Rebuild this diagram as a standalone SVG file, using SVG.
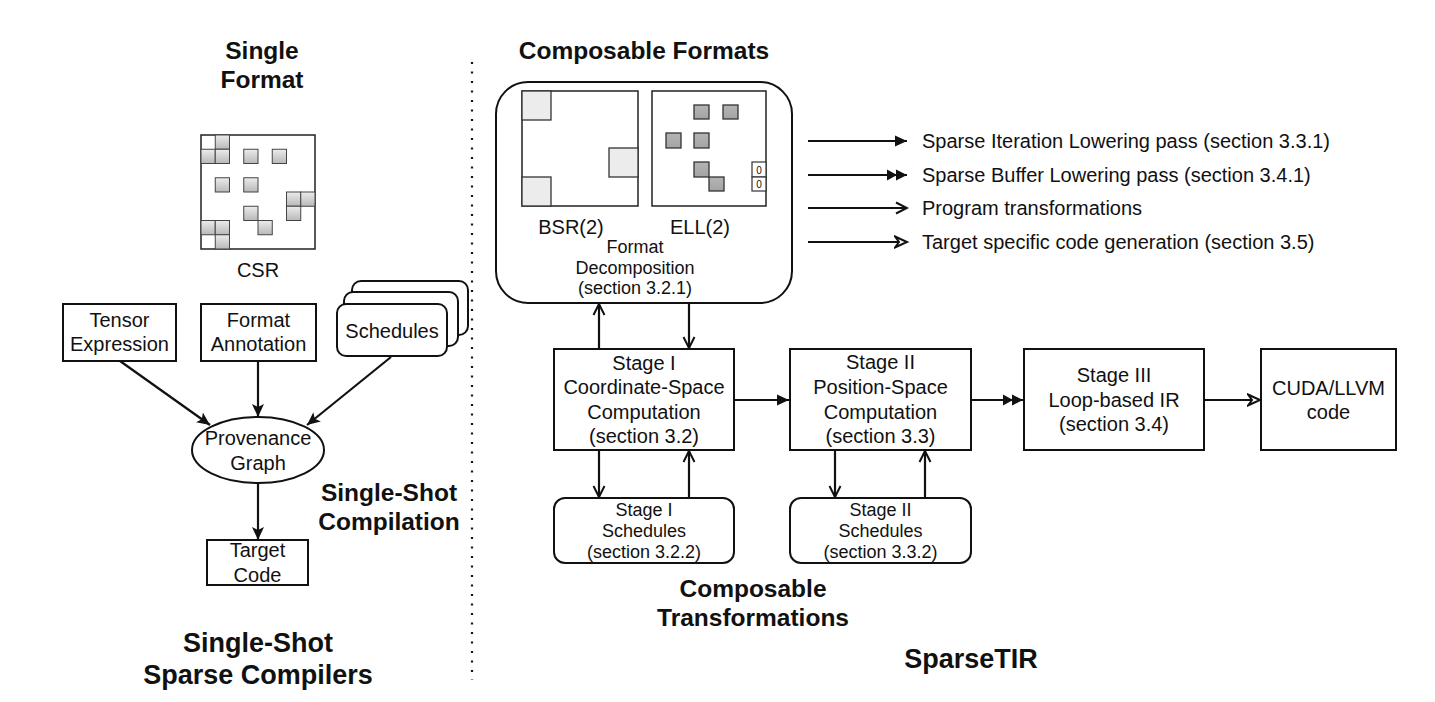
<svg xmlns="http://www.w3.org/2000/svg" width="1435" height="702" viewBox="0 0 1435 702">
<defs>
<style>
text{font-family:"Liberation Sans",Arial,sans-serif;fill:#111;text-anchor:middle;dominant-baseline:central}
.t{font-weight:bold;font-size:24.5px}
.tb{font-weight:bold;font-size:27px}
.m{font-size:20px}
.s{font-size:18px}
.lg{font-size:20px;text-anchor:start}
.box{fill:#fff;stroke:#111;stroke-width:2}
.mat{fill:#fff;stroke:#222;stroke-width:1.5}
.cell{fill:url(#g1);stroke:#444;stroke-width:1}
.bsr{fill:#ececec;stroke:#333;stroke-width:1.3}
.ell{fill:url(#g2);stroke:#333;stroke-width:1.3}
.e{fill:none;stroke:#111;stroke-width:2.2}
</style>
<linearGradient id="g1" x1="0" y1="0" x2="0" y2="1"><stop offset="0" stop-color="#ececec"/><stop offset="1" stop-color="#b8b8b8"/></linearGradient>
<linearGradient id="g2" x1="0" y1="0" x2="0" y2="1"><stop offset="0" stop-color="#b4b4b4"/><stop offset="1" stop-color="#a4a4a4"/></linearGradient>
<marker id="fill" markerUnits="userSpaceOnUse" markerWidth="14" markerHeight="12" refX="12" refY="6" orient="auto"><path d="M0,0.5 L12,6 L0,11.5 Z" fill="#111"/></marker>
<marker id="cls" markerUnits="userSpaceOnUse" markerWidth="15" markerHeight="13" refX="13" refY="6.5" orient="auto"><path d="M0,0.5 L13,6.5 L0,12.5 L3,6.5 Z" fill="#111"/></marker>
<marker id="dbl" markerUnits="userSpaceOnUse" markerWidth="22" markerHeight="12" refX="20" refY="6" orient="auto"><path d="M0,0.5 L10,6 L0,11.5 Z M9,0.5 L20,6 L9,11.5 Z" fill="#111"/></marker>
<marker id="open" markerUnits="userSpaceOnUse" markerWidth="14" markerHeight="14" refX="12" refY="7" orient="auto"><path d="M1,1.5 L12,7 L1,12.5" fill="none" stroke="#111" stroke-width="2"/></marker>
<marker id="openc" markerUnits="userSpaceOnUse" markerWidth="16" markerHeight="14" refX="13" refY="7" orient="auto"><path d="M1,1.5 L13,7 L1,12.5 L5,7 Z" fill="#fff" stroke="#111" stroke-width="2" stroke-linejoin="miter"/></marker>
</defs>
<rect width="1435" height="702" fill="#fff"/>

<!-- titles -->
<g id="titles">
<text class="t" x="262" y="50">Single</text>
<text class="t" x="262" y="79">Format</text>
<text class="t" x="389" y="492">Single-Shot</text>
<text class="t" x="389" y="521">Compilation</text>
<text class="tb" x="258" y="643">Single-Shot</text>
<text class="tb" x="258" y="675">Sparse Compilers</text>
<text class="t" x="644" y="50">Composable Formats</text>
<text class="t" x="753" y="588">Composable</text>
<text class="t" x="753" y="617">Transformations</text>
<text class="tb" x="971" y="659">SparseTIR</text>
</g>

<!-- divider -->
<line x1="472" y1="62" x2="472" y2="680" stroke="#111" stroke-width="2.2" stroke-dasharray="2 7.5"/>

<!-- CSR matrix -->
<g id="csr">
<rect class="mat" x="201" y="135" width="114" height="114"/>
<rect class="cell" x="215.25" y="135" width="14.25" height="14.25"/>
<rect class="cell" x="201" y="149.25" width="14.25" height="14.25"/>
<rect class="cell" x="215.25" y="149.25" width="14.25" height="14.25"/>
<rect class="cell" x="243.75" y="149.25" width="14.25" height="14.25"/>
<rect class="cell" x="272.25" y="149.25" width="14.25" height="14.25"/>
<rect class="cell" x="215.25" y="177.75" width="14.25" height="14.25"/>
<rect class="cell" x="243.75" y="177.75" width="14.25" height="14.25"/>
<rect class="cell" x="286.5" y="192" width="14.25" height="14.25"/>
<rect class="cell" x="300.75" y="192" width="14.25" height="14.25"/>
<rect class="cell" x="243.75" y="206.25" width="14.25" height="14.25"/>
<rect class="cell" x="286.5" y="206.25" width="14.25" height="14.25"/>
<rect class="cell" x="201" y="220.5" width="14.25" height="14.25"/>
<rect class="cell" x="215.25" y="220.5" width="14.25" height="14.25"/>
<rect class="cell" x="258" y="220.5" width="14.25" height="14.25"/>
<rect class="cell" x="215.25" y="234.75" width="14.25" height="14.25"/>
<text class="m" x="258" y="270">CSR</text>
</g>

<!-- left nodes -->
<g id="tensor-expression">
<rect class="box" x="63" y="304" width="113" height="57"/>
<text class="m" x="119.5" y="320">Tensor</text>
<text class="m" x="119.5" y="344">Expression</text>
</g>
<g id="format-annotation">
<rect class="box" x="201" y="304" width="115" height="57"/>
<text class="m" x="258.5" y="320">Format</text>
<text class="m" x="258.5" y="344">Annotation</text>
</g>
<g id="schedules">
<rect class="box" x="352" y="281" width="116" height="54" rx="9"/>
<rect class="box" x="344" y="292" width="114" height="54" rx="9"/>
<rect class="box" x="337" y="304" width="110" height="52" rx="9"/>
<text class="m" x="392" y="331">Schedules</text>
</g>
<g id="provenance-graph">
<ellipse class="box" cx="258" cy="450" rx="66" ry="33"/>
<text class="m" x="258" y="438">Provenance</text>
<text class="m" x="258" y="463">Graph</text>
</g>
<g id="target-code">
<rect class="box" x="207" y="540" width="101" height="45"/>
<text class="m" x="257.5" y="550">Target</text>
<text class="m" x="257.5" y="575">Code</text>
</g>

<!-- Composable formats -->
<g id="composable-formats">
<rect class="box" x="496" y="82" width="296" height="221" rx="32"/>
<rect class="mat" x="522" y="91" width="116" height="115"/>
<rect class="bsr" x="522" y="91" width="29" height="29"/>
<rect class="bsr" x="609" y="148" width="29" height="29"/>
<rect class="bsr" x="522" y="177" width="29" height="29"/>
<rect class="mat" x="652" y="91" width="114" height="115"/>
<rect class="ell" x="694" y="105" width="15" height="14"/>
<rect class="ell" x="723" y="105" width="15" height="14"/>
<rect class="ell" x="666" y="133" width="15" height="15"/>
<rect class="ell" x="694" y="133" width="15" height="15"/>
<rect class="ell" x="694" y="162" width="15" height="15"/>
<rect class="ell" x="709" y="177" width="15" height="14"/>
<rect fill="#fff" stroke="#333" stroke-width="1.2" x="752" y="162" width="14" height="15"/>
<rect fill="#fff" stroke="#333" stroke-width="1.2" x="752" y="177" width="14" height="14"/>
<text x="759" y="170" style="font-size:10px">0</text>
<text x="759" y="184.5" style="font-size:10px">0</text>
<text class="m" x="571" y="227">BSR(2)</text>
<text class="m" x="700" y="227">ELL(2)</text>
<text class="s" x="635" y="247">Format</text>
<text class="s" x="635" y="268">Decomposition</text>
<text class="s" x="635" y="288">(section 3.2.1)</text>
</g>

<!-- legend -->
<g id="legend">
<line class="e" x1="808" y1="141" x2="907" y2="141" marker-end="url(#fill)"/>
<line class="e" x1="808" y1="175" x2="907" y2="175" marker-end="url(#dbl)"/>
<line class="e" x1="808" y1="208" x2="907" y2="208" marker-end="url(#open)"/>
<line class="e" x1="808" y1="242" x2="907" y2="242" marker-end="url(#openc)"/>
<text class="lg" x="922" y="141">Sparse Iteration Lowering pass (section 3.3.1)</text>
<text class="lg" x="922" y="175">Sparse Buffer Lowering pass (section 3.4.1)</text>
<text class="lg" x="922" y="208">Program transformations</text>
<text class="lg" x="922" y="242">Target specific code generation (section 3.5)</text>
</g>

<!-- stages -->
<g id="stage1">
<rect class="box" x="554" y="349" width="180" height="101"/>
<text class="m" x="644" y="363">Stage I</text>
<text class="m" x="644" y="387">Coordinate-Space</text>
<text class="m" x="644" y="412">Computation</text>
<text class="m" x="644" y="436">(section 3.2)</text>
</g>
<g id="stage1-schedules">
<rect class="box" x="554" y="498" width="180" height="65" rx="11"/>
<text class="s" x="644" y="510">Stage I</text>
<text class="s" x="644" y="531">Schedules</text>
<text class="s" x="644" y="552">(section 3.2.2)</text>
</g>
<g id="stage2">
<rect class="box" x="790" y="349" width="181" height="101"/>
<text class="m" x="880.5" y="362">Stage II</text>
<text class="m" x="880.5" y="387">Position-Space</text>
<text class="m" x="880.5" y="412">Computation</text>
<text class="m" x="880.5" y="436">(section 3.3)</text>
</g>
<g id="stage2-schedules">
<rect class="box" x="790" y="498" width="181" height="65" rx="11"/>
<text class="s" x="880.5" y="510">Stage II</text>
<text class="s" x="880.5" y="531">Schedules</text>
<text class="s" x="880.5" y="552">(section 3.3.2)</text>
</g>
<g id="stage3">
<rect class="box" x="1024" y="349" width="180" height="101"/>
<text class="m" x="1114" y="375">Stage III</text>
<text class="m" x="1114" y="400">Loop-based IR</text>
<text class="m" x="1114" y="424">(section 3.4)</text>
</g>
<g id="cuda">
<rect class="box" x="1261" y="349" width="135" height="101"/>
<text class="m" x="1328.5" y="388">CUDA/LLVM</text>
<text class="m" x="1328.5" y="412">code</text>
</g>

<!-- connectors -->
<g id="connectors">
<line class="e" x1="120" y1="361" x2="210" y2="425" marker-end="url(#cls)"/>
<line class="e" x1="258" y1="361" x2="258" y2="417" marker-end="url(#cls)"/>
<line class="e" x1="391" y1="357" x2="307" y2="425" marker-end="url(#cls)"/>
<line class="e" x1="258" y1="483" x2="258" y2="540" marker-end="url(#cls)"/>
<line class="e" x1="599" y1="349" x2="599" y2="304" marker-end="url(#open)"/>
<line class="e" x1="689" y1="303" x2="689" y2="348" marker-end="url(#open)"/>
<line class="e" x1="599" y1="450" x2="599" y2="497" marker-end="url(#open)"/>
<line class="e" x1="689" y1="498" x2="689" y2="451" marker-end="url(#open)"/>
<line class="e" x1="835" y1="450" x2="835" y2="497" marker-end="url(#open)"/>
<line class="e" x1="925" y1="498" x2="925" y2="451" marker-end="url(#open)"/>
<line class="e" x1="734" y1="400" x2="789" y2="400" marker-end="url(#fill)"/>
<line class="e" x1="971" y1="400" x2="1023" y2="400" marker-end="url(#dbl)"/>
<line class="e" x1="1204" y1="400" x2="1260" y2="400" marker-end="url(#openc)"/>
</g>
</svg>
